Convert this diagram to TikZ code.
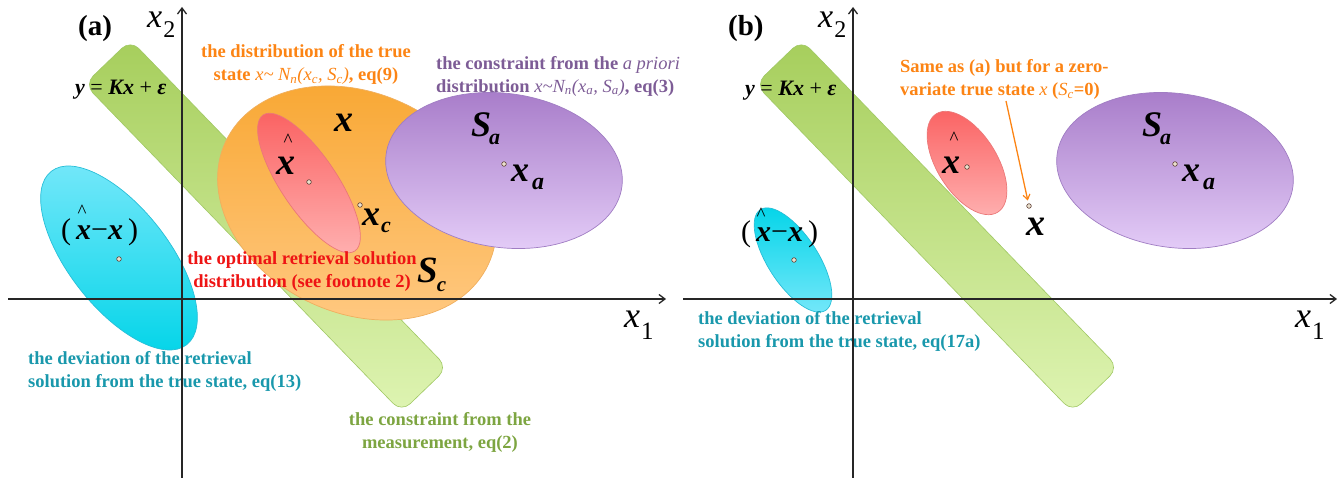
\documentclass[tikz,border=0pt]{standalone}
\usepackage{fontspec}
\setmainfont{Liberation Serif}
\usetikzlibrary{arrows.meta}
\definecolor{grTop}{RGB}{166,206,92}
\definecolor{grBot}{RGB}{222,244,178}
\definecolor{grEdge}{RGB}{160,200,100}
\definecolor{cyLight}{RGB}{120,232,250}
\definecolor{cyDark}{RGB}{0,212,232}
\definecolor{cyEdge}{RGB}{40,190,215}
\definecolor{orTop}{RGB}{248,166,48}
\definecolor{orBot}{RGB}{255,200,128}
\definecolor{orEdge}{RGB}{240,175,95}
\definecolor{rdTop}{RGB}{250,96,96}
\definecolor{rdBot}{RGB}{255,178,178}
\definecolor{rdEdge}{RGB}{235,120,120}
\definecolor{puTop}{RGB}{166,122,200}
\definecolor{puBot}{RGB}{226,202,246}
\definecolor{puEdge}{RGB}{160,125,195}
\definecolor{txOr}{RGB}{252,132,20}
\definecolor{txPu}{RGB}{125,92,150}
\definecolor{txRd}{RGB}{238,20,20}
\definecolor{txCy}{RGB}{25,152,172}
\definecolor{txGr}{RGB}{125,165,65}
\definecolor{dotEdge}{RGB}{95,65,55}
\definecolor{dotFill}{RGB}{235,225,205}
\newcommand{\fs}[1]{\fontsize{#1}{#1}\selectfont}
% hat placed over the following x: #1 horizontal shift, #2 raise
\newcommand{\hatover}[2]{\makebox[0pt][l]{\kern#1\raisebox{#2}{\fs{19}\mdseries\upshape\textasciicircum}}}
\begin{document}
\begin{tikzpicture}[x=1pt,y=-1pt,
  lbl/.style={font=\fontsize{18.5}{23}\selectfont\bfseries, inner sep=0pt},
  mth/.style={font=\bfseries\itshape, inner sep=0pt, anchor=base west},
  axlbl/.style={font=\itshape, inner sep=0pt, anchor=base west},
  dotn/.style={circle, draw=dotEdge, fill=dotFill, minimum size=4.6pt, inner sep=0pt, line width=0.6pt},
  axis/.style={line width=1.5pt, draw=black!85, -{Straight Barb[length=6pt,width=9pt,line width=1.3pt]}},
  bar/.style={top color=grTop, bottom color=grBot, draw=grEdge, line width=0.6pt, rounded corners=12pt},
  ell/.style={line width=0.7pt}]
\useasboundingbox (0,0) rectangle (1342,478);

% ---------------- panel (a) shapes
\path[bar] (130.5,39.9) -- (447.5,367.7) -- (401.5,412.1) -- (84.5,84.3) -- cycle;
\path[ell, top color=orTop, bottom color=orBot, draw=orEdge] (357,203) ellipse [x radius=145pt, y radius=110pt, rotate=-25];
\path[ell, top color=rdTop, bottom color=rdBot, draw=rdEdge] (309,183) ellipse [x radius=82pt, y radius=28pt, rotate=-56];
\path[ell, top color=puTop, bottom color=puBot, draw=puEdge] (504,170.5) ellipse [x radius=119pt, y radius=77pt, rotate=-8];
\path[ell, top color=cyLight, bottom color=cyDark, draw=cyEdge] (119,258) ellipse [x radius=110pt, y radius=50pt, rotate=-52];

% ---------------- panel (b) shapes
\path[bar] (801.5,39.9) -- (1118.5,367.7) -- (1072.5,412.1) -- (755.5,84.3) -- cycle;
\path[ell, top color=rdTop, bottom color=rdBot, draw=rdEdge] (967,163) ellipse [x radius=58pt, y radius=30pt, rotate=-58];
\path[ell, top color=puTop, bottom color=puBot, draw=puEdge] (1175,170.5) ellipse [x radius=119pt, y radius=77pt, rotate=-8];
\path[ell, top color=cyDark, bottom color=cyLight, draw=cyEdge] (793,260) ellipse [x radius=60pt, y radius=25pt, rotate=-57];

% ---------------- dots
\node[dotn] (dcyA) at (119,259) {};
\node[dotn] (drdA) at (309,182) {};
\node[dotn] (dxcA) at (360,205) {};
\node[dotn] (dxaA) at (504,164) {};
\node[dotn] (dcyB) at (794,260) {};
\node[dotn] (drdB) at (967,167) {};
\node[dotn] (dxB)  at (1029,206) {};
\node[dotn] (dxaB) at (1175,164) {};

% ---------------- text labels (a)
\node[lbl, text=txOr, align=center] (lblTrue) at (306,64.5)
  {the distribution of the true\\ state {\mdseries\itshape x\textasciitilde{} N\textsubscript{n}(x\textsubscript{c}, S\textsubscript{c})}, eq(9)};
\node[lbl, text=txPu, align=left, anchor=west] (lblPrior) at (436,76)
  {the constraint from the {\mdseries\itshape a priori}\\ distribution {\mdseries\itshape x\textasciitilde N\textsubscript{n}(x\textsubscript{a}, S\textsubscript{a})}, eq(3)};
\node[lbl, text=txRd, align=center] (lblOpt) at (302,271.5)
  {the optimal retrieval solution\\ distribution (see footnote 2)};
\node[lbl, text=txCy, align=left, anchor=west] (lblDevA) at (28,371)
  {the deviation of the retrieval\\ solution from the true state, eq(13)};
\node[lbl, text=txGr, align=center] (lblMeas) at (440,432.5)
  {the constraint from the\\ measurement, eq(2)};

% ---------------- text labels (b)
\node[lbl, text=txOr, align=left, anchor=west] (lblZero) at (900,79.5)
  {Same as (a) but for a zero-\\ variate true state {\mdseries\itshape x} ({\mdseries\itshape S\textsubscript{c}}=0)};
\node[lbl, text=txCy, align=left, anchor=west] (lblDevB) at (698,331)
  {the deviation of the retrieval\\ solution from the true state, eq(17a)};

% ---------------- math labels (a)
\node[mth, font=\fs{22}\bfseries\itshape] (eqA) at (75,95) {y {\upshape\mdseries =} Kx {\upshape\mdseries +} ε};
\node[mth, font=\fs{38}\bfseries\itshape] (xA) at (334,132) {x};
\node[mth, font=\fs{38}\bfseries\itshape] (xhA) at (276,175) {\hatover{7.5pt}{28pt}x};
\node[mth, font=\fs{36}\bfseries\itshape] (xcA) at (362,226) {x\kern1pt\raisebox{-7pt}{\fs{22}c}};
\node[mth, font=\fs{37}\bfseries\itshape] (ScA) at (417,283) {S\kern-1pt\raisebox{-9pt}{\fs{21}c}};
\node[mth, font=\fs{36}\bfseries\itshape] (SaA) at (471,137) {S\kern-2pt\raisebox{-8pt}{\fs{22}a}};
\node[mth, font=\fs{36}\bfseries\itshape] (xaA) at (511,182) {x\kern3pt\raisebox{-8pt}{\fs{24}a}};
\node[mth, font=\fs{30}] (devA) at (61,240) {(\,\hatover{1.5pt}{22pt}{\bfseries\itshape x}−{\bfseries\itshape x}\,)};

% ---------------- math labels (b)
\node[mth, font=\fs{22}\bfseries\itshape] (eqB) at (745,96) {y {\upshape\mdseries =} Kx {\upshape\mdseries +} ε};
\node[mth, font=\fs{36}\bfseries\itshape] (xhB) at (942,174) {\hatover{7.5pt}{29pt}x};
\node[mth, font=\fs{38}\bfseries\itshape] (xB) at (1026,236) {x};
\node[mth, font=\fs{36}\bfseries\itshape] (SaB) at (1142,137) {S\kern-2pt\raisebox{-8pt}{\fs{22}a}};
\node[mth, font=\fs{36}\bfseries\itshape] (xaB) at (1182,182) {x\kern3pt\raisebox{-8pt}{\fs{24}a}};
\node[mth, font=\fs{30}] (devB) at (741,242) {(\,\hatover{0.5pt}{21pt}{\bfseries\itshape x}−{\bfseries\itshape x}\,)};

% ---------------- arrow (b)
\coordinate (arrS) at (1006,101);
\draw[draw=txOr, line width=1.3pt, -{Straight Barb[length=5pt,width=7pt,line width=1.2pt]}, shorten >=3pt] (arrS) -- (dxB);

% ---------------- panel labels
\node[mth, font=\fs{29}\bfseries] (pa) at (78,36) {(a)};
\node[mth, font=\fs{29}\bfseries] (pb) at (728,36) {(b)};

% ---------------- axes
\coordinate (a1s) at (8,299);   \coordinate (a1e) at (666,299);
\coordinate (a2s) at (182,478); \coordinate (a2e) at (182,7);
\coordinate (b1s) at (683,299); \coordinate (b1e) at (1337,299);
\coordinate (b2s) at (853,478); \coordinate (b2e) at (853,7);
\draw[axis] (a1s) -- (a1e);
\draw[axis] (a2s) -- (a2e);
\draw[axis] (b1s) -- (b1e);
\draw[axis] (b2s) -- (b2e);
\node[axlbl, font=\fs{36}\itshape] (x1A) at (624,328) {x\kern1pt\raisebox{-12pt}{\fs{25}\upshape 1}};
\node[axlbl, font=\fs{34}\itshape] (x2A) at (147,28) {x\kern1pt\raisebox{-10pt}{\fs{24}\upshape 2}};
\node[axlbl, font=\fs{36}\itshape] (x1B) at (1295,328) {x\kern1pt\raisebox{-12pt}{\fs{25}\upshape 1}};
\node[axlbl, font=\fs{34}\itshape] (x2B) at (818,28) {x\kern1pt\raisebox{-10pt}{\fs{24}\upshape 2}};
\end{tikzpicture}
\end{document}
